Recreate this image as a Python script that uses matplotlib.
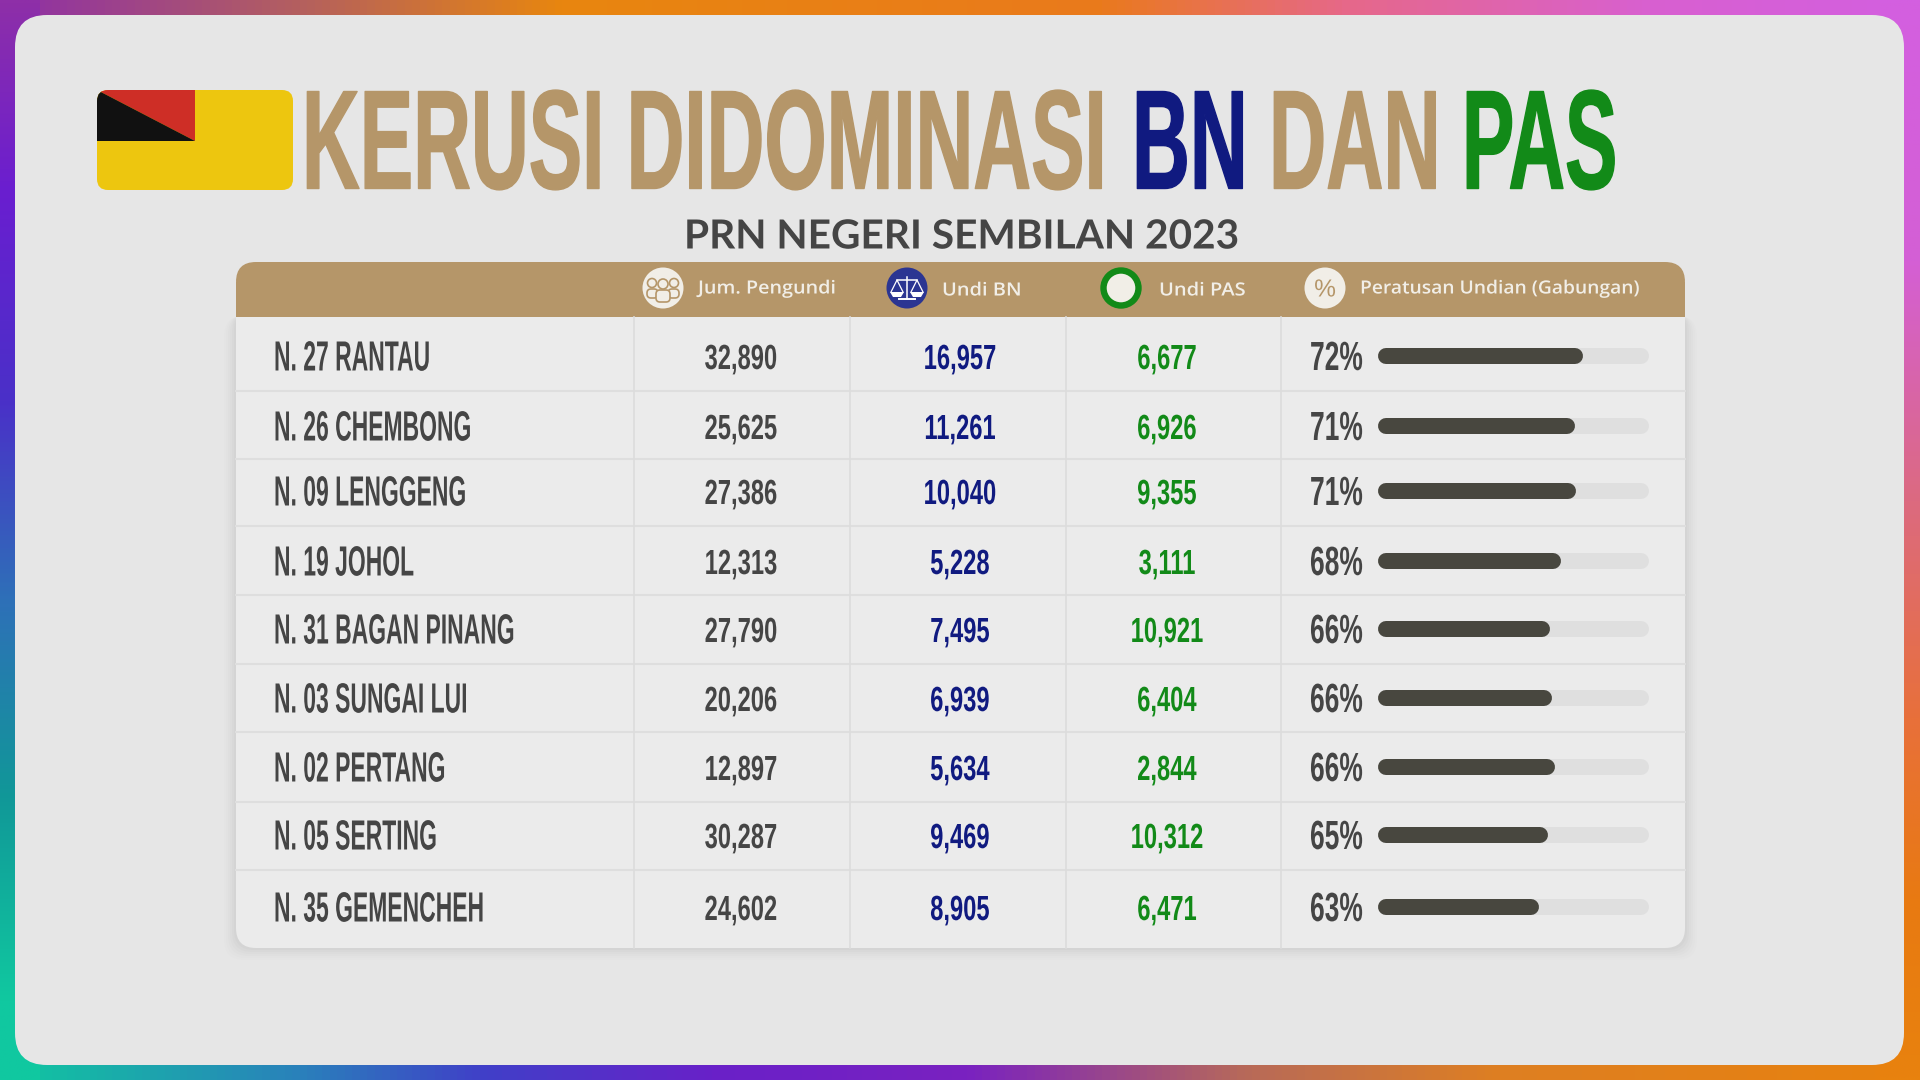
import numpy as np
import matplotlib
matplotlib.use("Agg")
import matplotlib.pyplot as plt
from matplotlib.colors import LinearSegmentedColormap
from matplotlib.font_manager import FontProperties
from matplotlib.patches import FancyBboxPatch, Rectangle, Circle, Polygon
from matplotlib.patheffects import AbstractPathEffect
from matplotlib.textpath import TextPath
from matplotlib.transforms import Affine2D

# ---- data ----
seats = ["N. 27 RANTAU", "N. 26 CHEMBONG", "N. 09 LENGGENG", "N. 19 JOHOL",
         "N. 31 BAGAN PINANG", "N. 03 SUNGAI LUI", "N. 02 PERTANG",
         "N. 05 SERTING", "N. 35 GEMENCHEH"]
voters = [32890, 25625, 27386, 12313, 27790, 20206, 12897, 30287, 24602]
votes_bn = [16957, 11261, 10040, 5228, 7495, 6939, 5634, 9469, 8905]
votes_pas = [6677, 6926, 9355, 3111, 10921, 6404, 2844, 10312, 6471]
turnout_pct = [72, 71, 71, 68, 66, 66, 66, 65, 63]
bar_fill = [74.1, 71.0, 71.4, 65.5, 61.2, 61.8, 63.1, 60.4, 56.9]
col_headers = ["Jum. Pengundi", "Undi BN", "Undi PAS", "Peratusan Undian (Gabungan)"]

# ---- layout (pixels of a 1920x1080 canvas) ----
row_y = [356, 426, 491, 561, 629, 698, 767, 835, 907]
row_rules = [391, 459, 526, 595, 664, 732, 802, 870]
col_rules = [634, 850, 1066, 1281]

TAN = "#B59669"
NAVY = "#101A80"
GREEN = "#128A18"
DARK = "#454545"
CREAM = "#F1EEE7"
NARROW = ["Liberation Sans Narrow", "Liberation Sans"]

fig = plt.figure(figsize=(19.2, 10.8), dpi=100)
ax = fig.add_axes([0, 0, 1, 1])
ax.axis("off")


class Tall(AbstractPathEffect):
    """Stretch a text vertically about its baseline, which gives the tall
    condensed letter shape while the text keeps its true width in the layout."""
    def __init__(self, baseline, sy, stroke=0.0, color=None):
        super().__init__()
        self.baseline, self.sy, self.stroke, self.color = baseline, sy, stroke, color

    def draw_path(self, renderer, gc, tpath, affine, rgbFace=None):
        y0 = ax.transData.transform((0, self.baseline))[1]
        stretch = Affine2D().translate(0, -y0).scale(1, self.sy).translate(0, y0)
        if self.stroke:
            g = renderer.new_gc()
            g.copy_properties(gc)
            g.set_linewidth(self.stroke)
            g.set_foreground(self.color)
            renderer.draw_path(g, tpath, affine + stretch, rgbFace)
            g.restore()
        else:
            renderer.draw_path(gc, tpath, affine + stretch, rgbFace)


def metrics(s, cap, family, weight):
    prop = FontProperties(family=family, weight=weight)
    h = TextPath((0, 0), "H", size=100, prop=prop).get_extents().height
    px = cap * 100 / h
    w = TextPath((0, 0), s, size=px, prop=prop).get_extents().width
    return px, w


def put(x, yc, s, cap, color, width=None, sx=1.0, ha="left",
        family=NARROW, weight="bold", zorder=6, stroke=0.0):
    px, w = metrics(s, cap, family, weight)
    if width is not None:
        sx = width / w
    baseline = yc + cap / 2
    return ax.text(x, baseline, s, fontsize=px * sx * 0.72, color=color, ha=ha,
                   va="baseline", family=family, weight=weight, zorder=zorder,
                   path_effects=[Tall(baseline, 1 / sx, stroke, color)])


def ratio(s, cap, width, family=NARROW, weight="bold"):
    return width / metrics(s, cap, family, weight)[1]


def strip(stops, extent, vertical):
    cmap = LinearSegmentedColormap.from_list("s", stops)
    g = np.linspace(0, 1, 512)
    g = g[:, None] if vertical else g[None, :]
    ax.imshow(g, cmap=cmap, extent=extent, aspect="auto", origin="upper" if vertical else "lower", zorder=0)


def stops(pairs, length):
    return [(p / length, c) for p, c in pairs]


top = stops([(0, "#8E2FA8"), (300, "#B4605E"), (560, "#E8860F"), (1100, "#EA7A1C"),
             (1350, "#E6688A"), (1650, "#D860D0"), (1920, "#D35FE0")], 1920)
bottom = stops([(0, "#10C8A0"), (300, "#2A80BB"), (480, "#4040C8"), (720, "#6A20C8"),
                (970, "#7A22C0"), (1250, "#B86A58"), (1500, "#DE7F22"), (1920, "#E8820E")], 1920)
left = stops([(0, "#8E2FA8"), (190, "#6A1ED0"), (400, "#4A30C8"), (600, "#2E70B8"),
              (800, "#109898"), (1000, "#10C8A0"), (1080, "#10C8A0")], 1080)
right = stops([(0, "#D35FE0"), (260, "#D45FD5"), (500, "#DC6A80"), (720, "#E8703A"),
               (900, "#E87A12"), (1080, "#E8820E")], 1080)
strip(top, (0, 1920, 40, 0), False)
strip(bottom, (0, 1920, 1080, 1040), False)
strip(left, (0, 40, 1080, 0), True)
strip(right, (1880, 1920, 1080, 0), True)


def rbox(x0, y0, x1, y1, r, color, z, alpha=1.0):
    p = FancyBboxPatch((x0, y0), x1 - x0, y1 - y0, boxstyle=f"round,pad=0,rounding_size={r}",
                       fc=color, ec="none", zorder=z, alpha=alpha)
    ax.add_patch(p)
    return p


rbox(15, 15, 1904, 1065, 32, "#E6E6E6", 1)

# flag
flag = rbox(97, 90, 293, 190, 11, "#EDC60F", 2)
for pts, col in ([[(97, 90), (195, 90), (195, 141)], "#CE2E26"],
                 [[(97, 90), (97, 141), (195, 141)], "#111111"]):
    poly = Polygon(pts, closed=True, fc=col, ec="none", zorder=3)
    ax.add_patch(poly)
    poly.set_clip_path(flag)

# titles
put(302, 140, "KERUSI DIDOMINASI", 97, TAN, width=794, stroke=1.0)
put(1132, 140, "BN", 97, NAVY, width=105, stroke=1.0)
put(1269, 140, "DAN", 97, TAN, width=161, stroke=1.0)
put(1462, 140, "PAS", 97, GREEN, width=147, stroke=1.0)
put(684, 234, "PRN NEGERI SEMBILAN 2023", 29, DARK, width=550, family=["Lato"], weight="bold")

# table shadow and body
for i, a in zip(range(12, 0, -2), [0.012, 0.015, 0.02, 0.025, 0.03, 0.035]):
    rbox(236 - i, 310 + i / 2, 1685 + i, 948 + i, 20, "#777777", 2, alpha=a)
rbox(236, 280, 1685, 948, 20, "#EBEBEB", 3)
rbox(236, 262, 1685, 300, 20, TAN, 4)
ax.add_patch(Rectangle((236, 282), 1449, 35, fc=TAN, ec="none", zorder=4))
for y in row_rules:
    ax.plot([236, 1685], [y, y], color="#DEDEDE", lw=1.5, zorder=4)
for x in col_rules:
    ax.plot([x, x], [317, 948], color="#DCDCDC", lw=1.2, zorder=4)

# header icons
icon_y = 288
ax.add_patch(Circle((663, icon_y), 20.5, fc=CREAM, ec="none", zorder=5))
for cx, cy, r, x0, x1, y0, y1 in [(652, 283, 4.5, 647, 658, 289, 298),
                                  (674, 283, 4.5, 668, 679, 289, 298),
                                  (663, 284, 5, 656, 670, 290, 302)]:
    ax.add_patch(Circle((cx, cy), r, fc=CREAM, ec=TAN, lw=1.2, zorder=6))
    ax.add_patch(FancyBboxPatch((x0, y0), x1 - x0, y1 - y0,
                                boxstyle="round,pad=0,rounding_size=4", fc=CREAM, ec=TAN, lw=1.2, zorder=6))

ax.add_patch(Circle((907, icon_y), 20.5, fc="#2B3592", ec="none", zorder=5))
ax.plot([907, 907], [277, 299], color="white", lw=1.1, zorder=6)
ax.plot([897, 917], [280, 280], color="white", lw=1.1, zorder=6)
ax.plot([899, 915], [299, 299], color="white", lw=1.4, zorder=6)
for cx in (897, 917):
    ax.plot([cx - 6, cx, cx + 6], [292, 280, 292], color="white", lw=0.9, zorder=6)
    ax.add_patch(Polygon([(cx - 7, 292), (cx + 7, 292), (cx + 4, 297), (cx - 4, 297)],
                         fc="white", ec="none", zorder=6))

ax.add_patch(Circle((1121, icon_y), 17.5, fc=CREAM, ec=GREEN, lw=4.6, zorder=5))
ax.add_patch(Circle((1325, icon_y), 20.5, fc=CREAM, ec="none", zorder=5))
put(1325, icon_y, "%", 17, TAN, width=20, ha="center", family=["Liberation Sans"], weight="normal")

# header labels
HF = ["Open Sans"]
put(698, 287, col_headers[0], 13, CREAM, width=138, family=HF, weight="semibold")
put(942, 289, col_headers[1], 13, CREAM, width=76, family=HF, weight="semibold")
put(1159, 289, col_headers[2], 13, CREAM, width=84, family=HF, weight="semibold")
put(1360, 287, col_headers[3], 13, CREAM, width=277, family=HF, weight="semibold")

# rows
sx_name = ratio("N. 35 GEMENCHEH", 29, 207)
sx_num = ratio("30,287", 24, 71)
sx_pct = ratio("72%", 28, 51)
for i, y in enumerate(row_y):
    put(274, y, seats[i], 29, DARK, sx=sx_name)
    put(741, y + 1, f"{voters[i]:,}", 24, DARK, sx=sx_num, ha="center")
    put(960, y + 1, f"{votes_bn[i]:,}", 24, NAVY, sx=sx_num, ha="center")
    put(1167, y + 1, f"{votes_pas[i]:,}", 24, GREEN, sx=sx_num, ha="center")
    put(1310, y, f"{turnout_pct[i]}%", 28, DARK, sx=sx_pct)

ax.set_xlim(0, 1920)
ax.set_ylim(1080, 0)

# turnout bars: their own 0-100 axis, track inset by the round caps
bx = fig.add_axes([1386 / 1920, 0, 255 / 1920, 1])
bx.axis("off")
bx.set_xlim(0, 100)
bx.set_ylim(1080, 0)
bx.patch.set_alpha(0)
lw = 16 * 72 / 100
for y, v in zip(row_y, bar_fill):
    bx.plot([0, 100], [y, y], color="#DFDFDF", lw=lw, solid_capstyle="round", clip_on=False, zorder=1)
    bx.plot([0, v], [y, y], color="#48473F", lw=lw, solid_capstyle="round", clip_on=False, zorder=2)

fig.savefig("out.png", dpi=100)
